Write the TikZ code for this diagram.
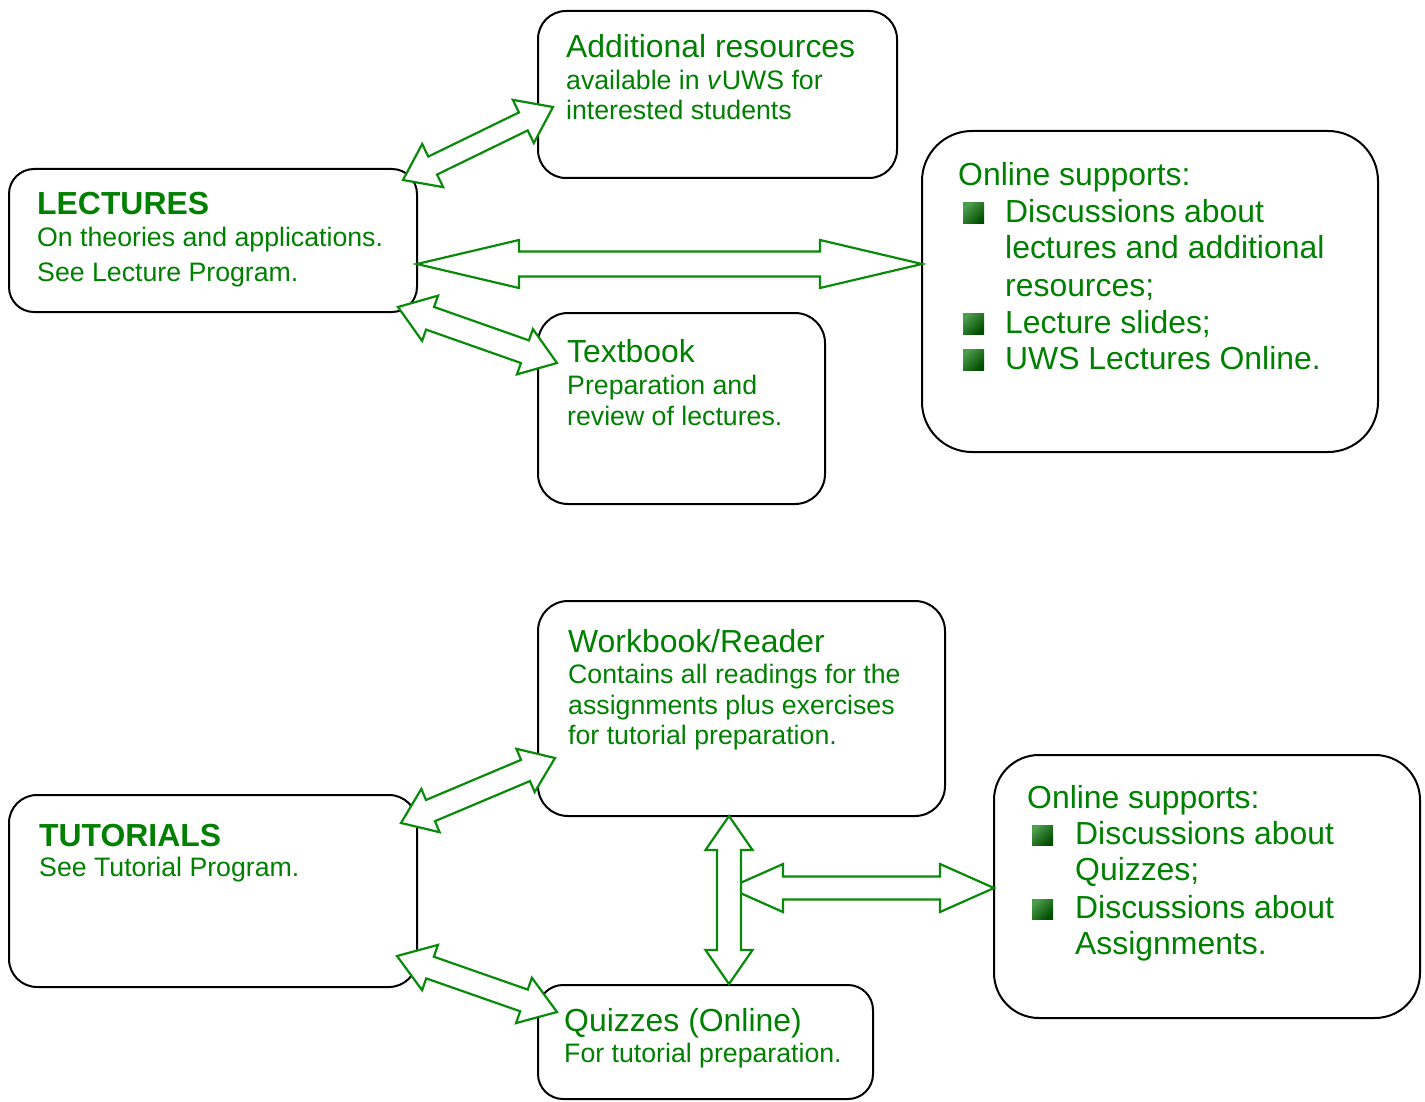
\documentclass[tikz,border=0pt]{standalone}
\usepackage{fontspec}
\setmainfont{Liberation Sans}
\usetikzlibrary{calc}
\definecolor{tgreen}{HTML}{008000}
\definecolor{agreen}{HTML}{0A8A0A}
\newcommand\hd{\fontsize{31.9}{36}\selectfont}
\newcommand\bd{\fontsize{26.7}{31}\selectfont}
\newcommand\dblarr[5]{%
 \filldraw[arrowsty] (#1)
  -- ($(#1)!#5!(#2)!#4!90:(#2)$)
  -- ($(#1)!#5!(#2)!#3!90:(#2)$)
  -- ($(#2)!#5!(#1)!#3!-90:(#1)$)
  -- ($(#2)!#5!(#1)!#4!-90:(#1)$)
  -- (#2)
  -- ($(#2)!#5!(#1)!#4!90:(#1)$)
  -- ($(#2)!#5!(#1)!#3!90:(#1)$)
  -- ($(#1)!#5!(#2)!#3!-90:(#2)$)
  -- ($(#1)!#5!(#2)!#4!-90:(#2)$)
  -- cycle;}
\tikzset{
  box/.style={draw=black, line width=2pt, fill=white, inner sep=0pt},
  arrowsty/.style={draw=agreen, fill=white, line width=2.2pt, line join=miter},
  txt/.style={anchor=base west, inner sep=0pt, text=tgreen},
  bul/.style={draw=none, left color=green!45!black!70!white, right color=green!30!black, shading angle=45}
}
\begin{document}
\begin{tikzpicture}[x=1pt,y=-1pt]
\useasboundingbox (0,0) rectangle (1425,1102);
\fill[white] (0,0) rectangle (1425,1102);

% boxes
\node[box, minimum width=359pt, minimum height=167pt, rounded corners=28pt] (addl) at (717.5,94.5) {};
\node[box, minimum width=408pt, minimum height=143pt, rounded corners=25pt] (lect) at (213,240.5) {};
\node[box, minimum width=456pt, minimum height=321pt, rounded corners=50pt] (onl1) at (1150,291.5) {};
\node[box, minimum width=287pt, minimum height=191pt, rounded corners=30pt] (textb) at (681.5,408.5) {};
\node[box, minimum width=407pt, minimum height=215pt, rounded corners=30pt] (work) at (741.5,708.5) {};
\node[box, minimum width=408pt, minimum height=192pt, rounded corners=28pt] (tut) at (213,891) {};
\node[box, minimum width=426pt, minimum height=263pt, rounded corners=45pt] (onl2) at (1207,886.5) {};
\node[box, minimum width=335pt, minimum height=114pt, rounded corners=25pt] (quiz) at (705.5,1042) {};

% texts
\node[txt] (t-addl1) at (566,58) {\hd Additional resources};
\node[txt] (t-addl2) at (566,90) {\bd available in \textit{v}UWS for};
\node[txt] (t-addl3) at (566,120) {\bd interested students};

\node[txt] (t-lect1) at (37,215) {\hd\bfseries LECTURES};
\node[txt] (t-lect2) at (37,247) {\bd On theories and applications.};
\node[txt] (t-lect3) at (37,282) {\bd See Lecture Program.};

\node[txt] (t-on1) at (958,186) {\hd Online supports:};
\node[txt] (t-on2) at (1005,223) {\hd Discussions about};
\node[txt] (t-on3) at (1005,259) {\hd lectures and additional};
\node[txt] (t-on4) at (1005,296) {\hd resources;};
\node[txt] (t-on5) at (1005,333) {\hd Lecture slides;};
\node[txt] (t-on6) at (1005,369) {\hd UWS Lectures Online.};
\foreach \y in {223,333,369}
  \shade[bul] (963,\y-20) rectangle (984,\y+1);

\node[txt] (t-tb1) at (567,362) {\hd Textbook};
\node[txt] (t-tb2) at (567,394) {\bd Preparation and};
\node[txt] (t-tb3) at (567,425) {\bd review of lectures.};

\node[txt] (t-wb1) at (568,652) {\hd Workbook/Reader};
\node[txt] (t-wb2) at (568,683) {\bd Contains all readings for the};
\node[txt] (t-wb3) at (568,714) {\bd assignments plus exercises};
\node[txt] (t-wb4) at (568,744) {\bd for tutorial preparation.};

\node[txt] (t-tut1) at (39,846) {\hd\bfseries TUTORIALS};
\node[txt] (t-tut2) at (39,876) {\bd See Tutorial Program.};

\node[txt] (t-o21) at (1027,808) {\hd Online supports:};
\node[txt] (t-o22) at (1075,844) {\hd Discussions about};
\node[txt] (t-o23) at (1075,880) {\hd Quizzes;};
\node[txt] (t-o24) at (1075,918) {\hd Discussions about};
\node[txt] (t-o25) at (1075,954) {\hd Assignments.};
\foreach \y in {844,918}
  \shade[bul] (1032,\y-19) rectangle (1053,\y+1);

\node[txt] (t-qz1) at (564,1031) {\hd Quizzes (Online)};
\node[txt] (t-qz2) at (564,1062) {\bd For tutorial preparation.};

% arrow end points
\coordinate (a1s) at (403,180); \coordinate (a1e) at (553,107);
\coordinate (a2s) at (417,264); \coordinate (a2e) at (922,264);
\coordinate (a3s) at (398,307); \coordinate (a3e) at (557,363);
\coordinate (a4s) at (401,823); \coordinate (a4e) at (555,758);
\coordinate (a5s) at (397,956); \coordinate (a5e) at (557,1012);
\coordinate (a7s) at (729,888); \coordinate (a7e) at (994,888);
\coordinate (a6s) at (729,816); \coordinate (a6e) at (729,984);

\dblarr{a1s}{a1e}{10pt}{24pt}{33pt}
\dblarr{a2s}{a2e}{12.5pt}{24pt}{102pt}
\dblarr{a3s}{a3e}{12pt}{24pt}{34pt}
\dblarr{a4s}{a4e}{11.5pt}{23.5pt}{32pt}
\dblarr{a5s}{a5e}{11.5pt}{24pt}{35pt}
\dblarr{a7s}{a7e}{11.5pt}{24pt}{54pt}
\dblarr{a6s}{a6e}{12pt}{23.5pt}{34pt}
\end{tikzpicture}
\end{document}
